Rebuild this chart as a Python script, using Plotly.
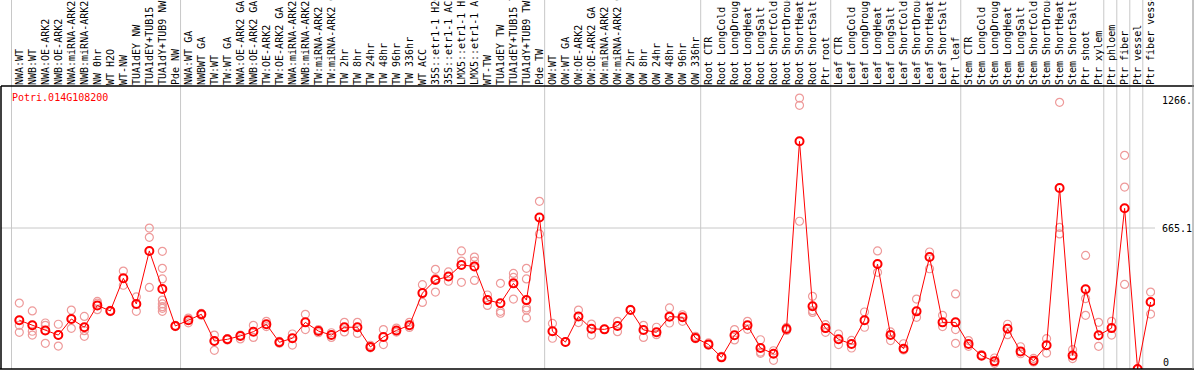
import plotly.graph_objects as go

categories = [
    "NWA:WT", "NWB:WT", "NWA:OE-ARK2", "NWB:OE-ARK2", "NWA:miRNA-ARK2", "NWB:miRNA-ARK2",
    "NW 0hr", "WT H2O", "WT-NW", "TUA1dEY NW", "TUA1dEY+TUB15 NW", "TUA1dY+TUB9 NW", "Pde NW",
    "NWA:WT GA", "NWBWT GA", "TW:WT", "TW:WT GA", "NWA:OE-ARK2 GA", "NWB:OE-ARK2 GA",
    "TW:OE-ARK2", "TW:OE-ARK2 GA", "NWA:miRNA-ARK2 GA", "NWB:miRNA-ARK2 GA", "TW:miRNA-ARK2",
    "TW:miRNA-ARK2 GA", "TW 2hr", "TW 8hr", "TW 24hr", "TW 48hr", "TW 96hr", "TW 336hr",
    "WT ACC", "35S::etr1-1 H2O", "35S::etr1-1 ACC", "LMX5::etr1-1 H2O", "LMX5::etr1-1 ACC",
    "WT-TW", "TUA1dEY TW", "TUA1dEY+TUB15 TW", "TUA1dY+TUB9 TW", "Pde TW",
    "OW:WT", "OW:WT GA", "OW:OE-ARK2", "OW:OE-ARK2 GA", "OW:miRNA-ARK2", "OW:miRNA-ARK2 GA",
    "OW 2hr", "OW 8hr", "OW 24hr", "OW 48hr", "OW 96hr", "OW 336hr",
    "Root CTR", "Root LongCold", "Root LongDrought", "Root LongHeat", "Root LongSalt",
    "Root ShortCold", "Root ShortDrought", "Root ShortHeat", "Root ShortSalt", "Ptr root",
    "Leaf CTR", "Leaf LongCold", "Leaf LongDrought", "Leaf LongHeat", "Leaf LongSalt",
    "Leaf ShortCold", "Leaf ShortDrought", "Leaf ShortHeat", "Leaf ShortSalt", "Ptr leaf",
    "Stem CTR", "Stem LongCold", "Stem LongDrought", "Stem LongHeat", "Stem LongSalt",
    "Stem ShortCold", "Stem ShortDrought", "Stem ShortHeat", "Stem ShortSalt", "Ptr shoot",
    "Ptr xylem", "Ptr phloem", "Ptr fiber", "Ptr vessel", "Ptr fiber vessel",
]

means = [
    230, 206, 182, 160, 236, 197, 300, 274, 428, 307, 557, 377, 203,
    230, 258, 132, 140, 156, 176, 211, 126, 145, 220, 179, 160, 197, 197, 104, 151, 182, 206,
    358, 420, 436, 491, 484, 325, 310, 404, 325, 715,
    178, 127, 248, 190, 187, 203, 278, 184, 173, 247, 244, 146,
    116, 55, 159, 206, 99, 72, 189, 1074, 296, 193,
    140, 118, 230, 495, 160, 96, 272, 528, 220, 220,
    118, 63, 36, 190, 83, 39, 112, 854, 64, 376,
    159, 193, 758, 0, 316,
]

replicates = [
    [311, 230, 206, 173], [274, 206, 178, 160], [217, 206, 182, 121], [211, 160, 108],
    [278, 236, 192], [248, 181, 154], [319, 311, 280], [277, 271], [462, 395],
    [340, 272], [665, 621, 385], [555, 475, 425, 325, 307, 294, 286, 272], [206, 200],
    [240, 218], [262, 254], [160, 132, 88], [143, 137], [142, 160], [206, 149],
    [225, 200], [130, 122], [165, 113], [258, 186], [186, 171], [171, 149], [220, 175],
    [220, 168], [112, 100], [186, 115], [193, 174], [220, 196],
    [398, 314], [470, 426, 363], [458, 414], [557, 509, 409], [528, 509, 418],
    [349, 300], [404, 272, 263], [451, 432, 330], [475, 425, 288, 278, 241], [791, 637],
    [215, 145], [127], [278, 219], [212, 160], [187], [225, 176], [281], [206, 149],
    [197, 162], [288, 217], [256, 225], [154, 143],
    [123, 112], [60], [186, 137], [225, 187], [138, 80, 74], [86, 41],
    [196, 182], [1278, 1244, 697], [343, 275, 267], [209, 173],
    [165, 115], [135, 99], [269, 197], [557, 456], [175, 134], [119, 90], [330, 244],
    [552, 473], [253, 200], [354, 186, 121],
    [134, 107], [68], [52, 27], [211, 162], [105, 72], [50, 33], [143, 75],
    [1258, 668, 637], [91, 49], [536, 332, 253],
    [220, 107], [225, 160], [1008, 858, 399], [0], [363, 259],
]

separators = [-0.6, 12.4, 40.4, 52.4, 62.4, 72.4, 83.4, 84.4, 85.4, 86.4, 87.4]
y_ticks = [665.1, 1266]
y_ticktext = ["665.1", "1266."]
gene_id = "Potri.014G108200"

rep_x, rep_y = [], []
for cat, reps in zip(categories, replicates):
    for r in reps:
        rep_x.append(cat)
        rep_y.append(r)

MONO = "DejaVu Sans Mono"

fig = go.Figure()
fig.add_trace(go.Scatter(
    x=rep_x, y=rep_y, mode="markers",
    marker=dict(symbol="circle-open", size=8, color="#ee9a9a", line=dict(width=1.2, color="#ee9a9a")),
    showlegend=False, hoverinfo="skip",
))
fig.add_trace(go.Scatter(
    x=categories, y=means, mode="lines+markers",
    line=dict(color="#ff0000", width=1),
    marker=dict(symbol="circle-open", size=8, color="#ff0000", line=dict(width=2, color="#ff0000")),
    showlegend=False,
))

# plot area: x pixels 1..1155, y pixels 86..369
W, H = 1194, 370
L, R, T, B = 1, 39, 86, 1
pw, ph = W - L - R, H - T - B

shapes = []
for s in separators:
    shapes.append(dict(type="line", xref="x", yref="paper", x0=s, x1=s, y0=0, y1=(H - B) / ph,
                       line=dict(color="#c8c8c8", width=1), layer="below"))
shapes.append(dict(type="line", xref="paper", yref="y", x0=0, x1=1, y0=665.1, y1=665.1,
                   line=dict(color="#c8c8c8", width=1), layer="below"))
# borders
right_px = (1193 - L) / pw
shapes += [
    dict(type="line", xref="paper", yref="paper", x0=0, x1=(W - L) / pw, y0=1, y1=1,
         line=dict(color="black", width=1.5)),
    dict(type="line", xref="paper", yref="paper", x0=-L / pw, x1=(W - L) / pw, y0=0, y1=0,
         line=dict(color="black", width=1.5)),
    dict(type="line", xref="paper", yref="paper", x0=0, x1=0, y0=0, y1=1,
         line=dict(color="black", width=1.5)),
    dict(type="line", xref="paper", yref="paper", x0=right_px, x1=right_px, y0=0, y1=(H - B) / ph,
         line=dict(color="#888888", width=1)),
]

fig.update_layout(
    width=W, height=H,
    margin=dict(l=L, r=R, t=T, b=B, pad=0, autoexpand=False),
    paper_bgcolor="white", plot_bgcolor="white",
    shapes=shapes,
    xaxis=dict(
        type="category", range=[-1.408, 87.338], side="top", tickangle=-90,
        tickfont=dict(family=MONO, size=10, color="black"),
        showgrid=False, zeroline=False, showline=False, ticks="", automargin=False,
    ),
    yaxis=dict(
        range=[0, 1335], side="right", tickvals=y_ticks, ticktext=y_ticktext,
        tickfont=dict(family=MONO, size=10, color="black"),
        showgrid=False, zeroline=False, showline=False, ticks="",
        ticklabelstandoff=6, automargin=False,
    ),
    annotations=[
        dict(text=gene_id, xref="paper", yref="paper", x=(10 - L) / pw, y=(H - B - 97) / ph,
             xanchor="left", yanchor="middle", showarrow=False,
             font=dict(family=MONO, size=10, color="#ff0000")),
        dict(text="0", xref="paper", yref="y", x=1, y=0, xanchor="left", yanchor="bottom",
             xshift=6, yshift=-1, showarrow=False,
             font=dict(family=MONO, size=10, color="black")),
    ],
)

fig.write_html("out.html", config={"displayModeBar": False},
               post_script="document.body.style.margin='0px';")
